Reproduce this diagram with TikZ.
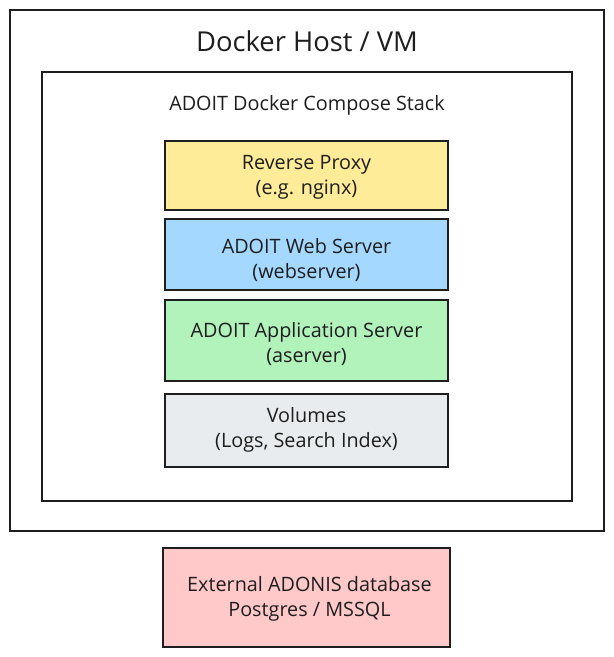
\documentclass[tikz,border=0pt]{standalone}
\usepackage{fontspec}
\setmainfont{Open Sans}
\definecolor{strokec}{HTML}{1E1E1E}
\definecolor{yelc}{HTML}{FFEC99}
\definecolor{bluc}{HTML}{A5D8FF}
\definecolor{grnc}{HTML}{B2F2BB}
\definecolor{gryc}{HTML}{E9ECEF}
\definecolor{redc}{HTML}{FFC9C9}
\begin{document}
\begin{tikzpicture}[x=1pt,y=-1pt,
  frame/.style={draw=strokec,line width=2pt},
  comp/.style={draw=strokec,line width=2pt,text=strokec,inner sep=0pt},
  txt/.style={text=strokec,align=center,inner sep=0pt,font=\fontsize{19.8}{25}\selectfont},
  lbl/.style={text=strokec,inner sep=0pt}]
\useasboundingbox (0,0) rectangle (614,657);
\fill[white] (0,0) rectangle (614,657);
\draw[frame] (10,10) rectangle (604,531);
\node[lbl,font=\fontsize{27.4}{30}\selectfont] (host) at (307,41) {Docker Host / VM};
\draw[frame] (42,72) rectangle (572,501);
\node[lbl,font=\fontsize{19.8}{22}\selectfont] (stack) at (307,105) {ADOIT Docker Compose Stack};
\node[comp,fill=yelc,minimum width=283pt,minimum height=69pt] (proxy) at (306.5,175.5) {};
\node[txt] at (306.5,177) {Reverse Proxy\\(e.g. nginx)};
\node[comp,fill=bluc,minimum width=283pt,minimum height=71pt] (web) at (306.5,254.5) {};
\node[txt] at (306.5,260) {ADOIT Web Server\\(webserver)};
\node[comp,fill=grnc,minimum width=283pt,minimum height=81pt] (app) at (306.5,340.5) {};
\node[txt] at (306.5,344) {ADOIT Application Server\\(aserver)};
\node[comp,fill=gryc,minimum width=283pt,minimum height=73pt] (vol) at (306.5,430.5) {};
\node[txt] at (306.5,429.5) {Volumes\\(Logs, Search Index)};
\node[comp,fill=redc,minimum width=287pt,minimum height=99pt] (db) at (306.5,597.5) {};
\node[txt] at (309.5,599) {External ADONIS database\\Postgres / MSSQL};
\end{tikzpicture}
\end{document}
